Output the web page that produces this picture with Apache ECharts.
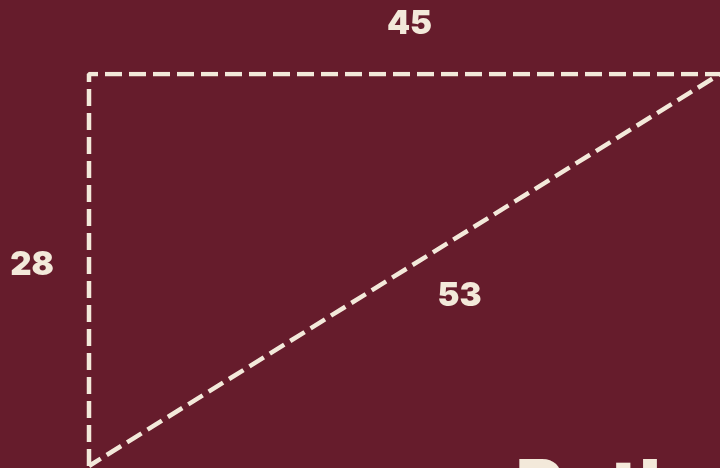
<!DOCTYPE html>
<html>
<head>
<meta charset="utf-8">
<script src="https://cdn.jsdelivr.net/npm/echarts@6/dist/echarts.min.js"></script>
<style>
  html, body { margin: 0; padding: 0; background: #661c2c; }
  #chart { width: 720px; height: 468px; }
</style>
</head>
<body>
<div id="chart"></div>
<script>
// triangle legs and hypotenuse
var legX = 45
var legY = 28
var hyp = 53
// path of the dashed outline: corner -> up -> right -> back to corner
var outline = [[0, 0], [0, legY], [legX, legY], [0, 0]]
// where each side label is anchored (data coords) and what it says
var sideLabels = [
  { value: [legX / 2, legY], text: '45', offset: [5, -50] },
  { value: [0, legY / 2], text: '28', offset: [-57, -5] },
  { value: [legX / 2, legY / 2], text: '53', offset: [55, 26] }
]
var titleText = 'Pythagorean theorem'

var cream = '#f3e9da'
var chart = echarts.init(document.getElementById('chart'))

var option = {
  backgroundColor: '#661c2c',
  animation: false,
  grid: { left: 89, top: 74, width: 631, height: 392 },
  xAxis: { type: 'value', min: 0, max: legX, show: false },
  yAxis: { type: 'value', min: 0, max: legY, show: false },
  graphic: [{
    type: 'text',
    left: 516,
    top: 453,
    style: {
      text: titleText,
      fill: cream,
      font: '900 72px Inter, sans-serif'
    }
  }],
  series: [
    {
      type: 'line',
      data: outline,
      symbol: 'none',
      lineStyle: { color: cream, width: 4.5, type: [17, 7] },
      z: 2
    },
    {
      type: 'scatter',
      symbolSize: 0,
      itemStyle: { opacity: 1 },
      data: sideLabels.map(function (d) {
        return {
          value: d.value,
          label: {
            show: true,
            position: 'inside',
            formatter: d.text,
            offset: d.offset,
            color: cream,
            fontSize: 33,
            fontWeight: 900,
            fontFamily: 'Inter'
          }
        }
      }),
      z: 3
    }
  ]
}
chart.setOption(option)
</script>
</body>
</html>
